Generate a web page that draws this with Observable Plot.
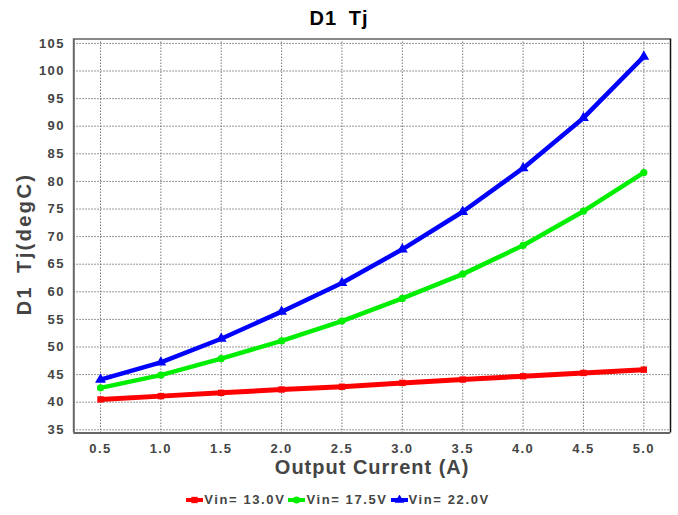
<!DOCTYPE html>
<html>
<head>
<meta charset="utf-8">
<script src="https://cdn.jsdelivr.net/npm/d3@7"></script>
<script src="https://cdn.jsdelivr.net/npm/@observablehq/plot@0.6"></script>
<style>
  body { margin: 0; background: #fff; font-family: "Liberation Sans", Arial, sans-serif; }
  #wrap { width: 678px; height: 515px; position: relative; }
  #title { height: 34px; line-height: 36px; text-align: center; font-weight: bold; font-size: 20px; letter-spacing: 1px; word-spacing: 5px; color: #000; }
  #legend { height: 31px; display: flex; justify-content: center; align-items: center; font-weight: bold; font-size: 13px; letter-spacing: 1.6px; color: #444; padding-left: 1px; }
  #legend .item { display: flex; align-items: center; margin-right: 3px; }
  #legend svg { margin-right: 1px; }
  #chart svg g[aria-label="x-axis tick label"] text,
  #chart svg g[aria-label="y-axis tick label"] text { letter-spacing: 1.4px; }
  #chart svg g[aria-label="text"] text { letter-spacing: 1px; }
  #chart svg g.ylab text { letter-spacing: 2.4px; word-spacing: 4px; }
</style>
</head>
<body>
<div id="wrap">
  <div id="title">D1 Tj</div>
  <div id="chart"></div>
  <div id="legend"></div>
</div>
<script>
const current = [0.5, 1.0, 1.5, 2.0, 2.5, 3.0, 3.5, 4.0, 4.5, 5.0];
const vin13 = [40.5, 41.1, 41.7, 42.3, 42.8, 43.5, 44.1, 44.7, 45.3, 45.9];
const vin175 = [42.6, 44.9, 47.9, 51.1, 54.7, 58.8, 63.2, 68.4, 74.6, 81.6];
const vin22 = [44.1, 47.2, 51.5, 56.4, 61.6, 67.7, 74.5, 82.4, 91.5, 102.6];
const seriesNames = ["Vin= 13.0V", "Vin= 17.5V", "Vin= 22.0V"];
const seriesColors = ["#ff0000", "#00ee00", "#0000ff"];
const seriesSymbols = ["square", "circle", "triangle"];
const xTicks = [0.5, 1.0, 1.5, 2.0, 2.5, 3.0, 3.5, 4.0, 4.5, 5.0];
const yTicks = [35, 40, 45, 50, 55, 60, 65, 70, 75, 80, 85, 90, 95, 100, 105];
const xDomain = [0.279, 5.221];
const yDomain = [34.42, 105.8];

const allSeries = [vin13, vin175, vin22];
const data = [];
allSeries.forEach((vals, si) => {
  vals.forEach((v, i) => data.push({x: current[i], y: v, s: seriesNames[si]}));
});

const marks = [
  Plot.gridX(xTicks, {stroke: "#777", strokeOpacity: 1, strokeDasharray: "1.5,1.5", strokeWidth: 1}),
  Plot.gridY(yTicks, {stroke: "#777", strokeOpacity: 1, strokeDasharray: "1.5,1.5", strokeWidth: 1}),
  Plot.ruleY([yDomain[1]], {stroke: "#888", strokeWidth: 2}),
  Plot.ruleX([xDomain[1]], {stroke: "#111", strokeWidth: 1.5}),
  Plot.ruleX([xDomain[0]], {stroke: "#666", strokeWidth: 2}),
  Plot.ruleY([yDomain[0]], {stroke: "#666", strokeWidth: 2}),
  Plot.axisX(xTicks, {tickSize: 0, tickPadding: 11, tickFormat: d => d.toFixed(1), fontSize: 13, fontWeight: "bold", fill: "#444", label: null}),
  Plot.axisY(yTicks, {tickSize: 0, tickPadding: 9, fontSize: 13, fontWeight: "bold", fill: "#444", label: null})
];
seriesNames.forEach((name, si) => {
  const d = data.filter(r => r.s === name);
  marks.push(Plot.line(d, {x: "x", y: "y", stroke: seriesColors[si], strokeWidth: si === 0 ? 5 : 4.5, strokeLinejoin: "round"}));
  marks.push(Plot.dot(d, {x: "x", y: "y", symbol: seriesSymbols[si], fill: seriesColors[si], r: si === 2 ? 4 : 3.6, stroke: "none"}));
});
marks.push(Plot.text(["Output Current (A)"], {frameAnchor: "bottom", dy: 41, text: d => d, fontSize: 20, fontWeight: "bold", fill: "#444"}));
marks.push(Plot.text(["D1 Tj(degC)"], {frameAnchor: "left", textAnchor: "middle", dx: -49, dy: 8, rotate: -90, text: d => d, fontSize: 20, fontWeight: "bold", fill: "#444"}));

const chart = Plot.plot({
  width: 678,
  height: 450,
  marginTop: 4.5,
  marginBottom: 51.5,
  marginLeft: 73.3,
  marginRight: 8,
  style: {fontFamily: "'Liberation Sans', Arial, sans-serif", background: "#fff", overflow: "visible"},
  x: {domain: xDomain, axis: null},
  y: {domain: yDomain, axis: null},
  marks
});
d3.select(chart).selectAll('g[aria-label="text"]').filter(function() {
  return d3.select(this).select("text").text().startsWith("D1");
}).attr("class", "ylab");
document.getElementById("chart").appendChild(chart);

const legend = document.getElementById("legend");
seriesNames.forEach((name, si) => {
  const item = document.createElement("span");
  item.className = "item";
  const sw = d3.create("svg").attr("width", 17).attr("height", 10);
  sw.append("line").attr("x1", 0).attr("x2", 17).attr("y1", 5).attr("y2", 5).attr("stroke", seriesColors[si]).attr("stroke-width", 4);
  sw.append("path").attr("transform", "translate(8.5,5)").attr("d", d3.symbol(si === 0 ? d3.symbolSquare : si === 1 ? d3.symbolCircle : d3.symbolTriangle, 40)()).attr("fill", seriesColors[si]);
  item.appendChild(sw.node());
  const t = document.createElement("span");
  t.textContent = name;
  item.appendChild(t);
  legend.appendChild(item);
});
</script>
</body>
</html>
